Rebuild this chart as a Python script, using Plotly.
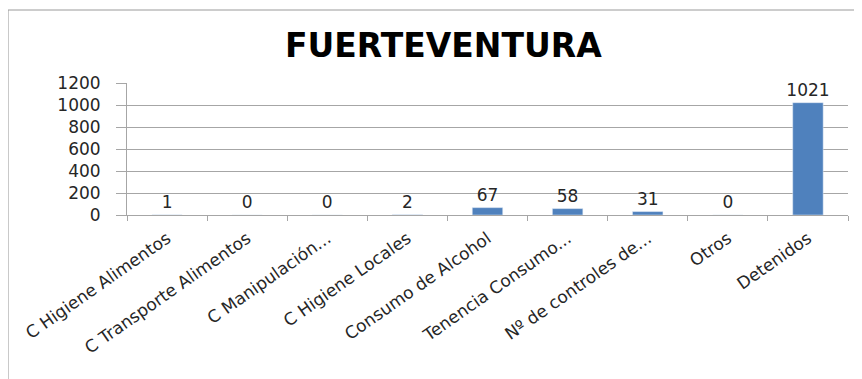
import plotly.graph_objects as go

# Data
categories = [
    "C Higiene Alimentos",
    "C Transporte Alimentos",
    "C Manipulación...",
    "C Higiene Locales",
    "Consumo de Alcohol",
    "Tenencia Consumo...",
    "Nº de controles de...",
    "Otros",
    "Detenidos",
]
values = [1, 0, 0, 2, 67, 58, 31, 0, 1021]
y_ticks = [0, 200, 400, 600, 800, 1000, 1200]

bar_color = "#4F81BD"
grid_color = "#A6A6A6"
font_family = "'DejaVu Sans', Verdana, sans-serif"

fig = go.Figure(go.Bar(
    x=categories,
    y=values,
    marker_color=bar_color,
    text=[str(v) for v in values],
    textposition="outside",
    constraintext="none",
    textfont=dict(size=17, color="#262626", family=font_family),
    cliponaxis=False,
))

fig.update_layout(
    width=862,
    height=379,
    margin=dict(l=119, r=22, t=75, b=172),
    paper_bgcolor="white",
    plot_bgcolor="white",
    showlegend=False,
    bargap=0.62,
    font=dict(family=font_family, color="#262626"),
    title=dict(
        text="<b>FUERTEVENTURA</b>",
        x=0.505, xanchor="center",
        y=0.90, yanchor="middle",
        font=dict(size=33, color="black", family=font_family),
    ),
    xaxis=dict(
        automargin=False,
        tickangle=-35,
        tickfont=dict(size=17),
        tickson="boundaries",
        ticks="outside",
        ticklen=5,
        tickcolor=grid_color,
        ticklabelstandoff=6,
        showline=True,
        linecolor=grid_color,
        showgrid=False,
    ),
    yaxis=dict(
        automargin=False,
        range=[0, 1200],
        tickvals=y_ticks,
        tickfont=dict(size=17),
        ticks="outside",
        ticklen=10,
        tickcolor=grid_color,
        ticklabelstandoff=12,
        showline=True,
        linecolor=grid_color,
        showgrid=True,
        gridcolor=grid_color,
        zeroline=False,
    ),
    # chart-area border (right and bottom edges fall outside the window)
    shapes=[dict(
        type="rect", xref="paper", yref="paper",
        x0=-0.165, x1=1.1, y0=-1.3, y1=1.553,
        line=dict(color="#9A9A9A", width=1),
    )],
)

fig.write_html("out.html")
